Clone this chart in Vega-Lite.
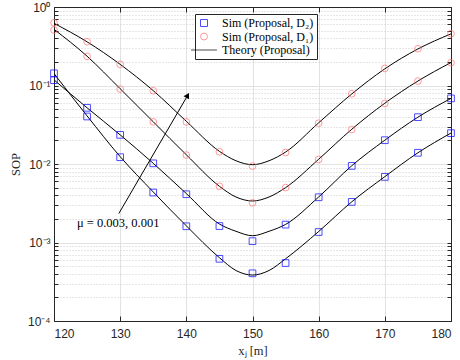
{
  "$schema": "https://vega.github.io/schema/vega-lite/v6.json",
  "width": 397,
  "height": 314,
  "autosize": {"type": "none"},
  "padding": {"left": 54, "top": 7, "right": 9, "bottom": 39},
  "background": "white",
  "config": {
    "view": {"stroke": "#262626", "strokeWidth": 1},
    "axis": {
      "domainColor": "#262626",
      "tickColor": "#262626",
      "labelColor": "#262626",
      "labelFont": "Liberation Sans",
      "labelFontSize": 12,
      "titleFont": "Liberation Serif",
      "titleFontSize": 12.5,
      "titleFontWeight": "normal",
      "titleColor": "#262626"
    }
  },
  "datasets": {
    "theory": [
      {"curve": "T1", "x": 120, "sop": 0.62}, {"curve": "T1", "x": 125, "sop": 0.36}, {"curve": "T1", "x": 130, "sop": 0.186}, {"curve": "T1", "x": 135, "sop": 0.086}, {"curve": "T1", "x": 140, "sop": 0.035}, {"curve": "T1", "x": 145, "sop": 0.0145}, {"curve": "T1", "x": 147.5, "sop": 0.011}, {"curve": "T1", "x": 150, "sop": 0.0098}, {"curve": "T1", "x": 152.5, "sop": 0.011}, {"curve": "T1", "x": 155, "sop": 0.0142}, {"curve": "T1", "x": 160, "sop": 0.0335}, {"curve": "T1", "x": 165, "sop": 0.078}, {"curve": "T1", "x": 170, "sop": 0.163}, {"curve": "T1", "x": 175, "sop": 0.292}, {"curve": "T1", "x": 180, "sop": 0.455},
      {"curve": "T2", "x": 120, "sop": 0.52}, {"curve": "T2", "x": 125, "sop": 0.236}, {"curve": "T2", "x": 130, "sop": 0.091}, {"curve": "T2", "x": 135, "sop": 0.0345}, {"curve": "T2", "x": 140, "sop": 0.0131}, {"curve": "T2", "x": 145, "sop": 0.0052}, {"curve": "T2", "x": 147.5, "sop": 0.0038}, {"curve": "T2", "x": 150, "sop": 0.00338}, {"curve": "T2", "x": 152.5, "sop": 0.0038}, {"curve": "T2", "x": 155, "sop": 0.005}, {"curve": "T2", "x": 160, "sop": 0.0115}, {"curve": "T2", "x": 165, "sop": 0.0277}, {"curve": "T2", "x": 170, "sop": 0.0595}, {"curve": "T2", "x": 175, "sop": 0.114}, {"curve": "T2", "x": 180, "sop": 0.196},
      {"curve": "T3", "x": 120, "sop": 0.118}, {"curve": "T3", "x": 125, "sop": 0.052}, {"curve": "T3", "x": 130, "sop": 0.0235}, {"curve": "T3", "x": 135, "sop": 0.0102}, {"curve": "T3", "x": 140, "sop": 0.0042}, {"curve": "T3", "x": 145, "sop": 0.00172}, {"curve": "T3", "x": 147.5, "sop": 0.00139}, {"curve": "T3", "x": 150, "sop": 0.00122}, {"curve": "T3", "x": 152.5, "sop": 0.00139}, {"curve": "T3", "x": 155, "sop": 0.0017}, {"curve": "T3", "x": 160, "sop": 0.0038}, {"curve": "T3", "x": 165, "sop": 0.0095}, {"curve": "T3", "x": 170, "sop": 0.0201}, {"curve": "T3", "x": 175, "sop": 0.0395}, {"curve": "T3", "x": 180, "sop": 0.0685},
      {"curve": "T4", "x": 120, "sop": 0.142}, {"curve": "T4", "x": 125, "sop": 0.041}, {"curve": "T4", "x": 130, "sop": 0.0124}, {"curve": "T4", "x": 135, "sop": 0.0044}, {"curve": "T4", "x": 140, "sop": 0.00163}, {"curve": "T4", "x": 145, "sop": 0.00064}, {"curve": "T4", "x": 147.5, "sop": 0.00044}, {"curve": "T4", "x": 150, "sop": 0.000385}, {"curve": "T4", "x": 152.5, "sop": 0.00044}, {"curve": "T4", "x": 155, "sop": 0.00062}, {"curve": "T4", "x": 160, "sop": 0.00138}, {"curve": "T4", "x": 165, "sop": 0.0033}, {"curve": "T4", "x": 170, "sop": 0.0069}, {"curve": "T4", "x": 175, "sop": 0.0139}, {"curve": "T4", "x": 180, "sop": 0.0248}
    ],
    "sim": [
      {"series": "Sim (Proposal, D₁)", "x": 120, "sop": 0.63}, {"series": "Sim (Proposal, D₁)", "x": 125, "sop": 0.361}, {"series": "Sim (Proposal, D₁)", "x": 130, "sop": 0.186}, {"series": "Sim (Proposal, D₁)", "x": 135, "sop": 0.0857}, {"series": "Sim (Proposal, D₁)", "x": 140, "sop": 0.0344}, {"series": "Sim (Proposal, D₁)", "x": 145, "sop": 0.0143}, {"series": "Sim (Proposal, D₁)", "x": 150, "sop": 0.0094}, {"series": "Sim (Proposal, D₁)", "x": 155, "sop": 0.014}, {"series": "Sim (Proposal, D₁)", "x": 160, "sop": 0.0331}, {"series": "Sim (Proposal, D₁)", "x": 165, "sop": 0.0784}, {"series": "Sim (Proposal, D₁)", "x": 170, "sop": 0.165}, {"series": "Sim (Proposal, D₁)", "x": 175, "sop": 0.294}, {"series": "Sim (Proposal, D₁)", "x": 180, "sop": 0.457},
      {"series": "Sim (Proposal, D₁)", "x": 120, "sop": 0.51}, {"series": "Sim (Proposal, D₁)", "x": 125, "sop": 0.235}, {"series": "Sim (Proposal, D₁)", "x": 130, "sop": 0.09}, {"series": "Sim (Proposal, D₁)", "x": 135, "sop": 0.0344}, {"series": "Sim (Proposal, D₁)", "x": 140, "sop": 0.013}, {"series": "Sim (Proposal, D₁)", "x": 145, "sop": 0.0052}, {"series": "Sim (Proposal, D₁)", "x": 150, "sop": 0.0032}, {"series": "Sim (Proposal, D₁)", "x": 155, "sop": 0.005}, {"series": "Sim (Proposal, D₁)", "x": 160, "sop": 0.0114}, {"series": "Sim (Proposal, D₁)", "x": 165, "sop": 0.0275}, {"series": "Sim (Proposal, D₁)", "x": 170, "sop": 0.0591}, {"series": "Sim (Proposal, D₁)", "x": 175, "sop": 0.114}, {"series": "Sim (Proposal, D₁)", "x": 180, "sop": 0.195},
      {"series": "Sim (Proposal, D₂)", "x": 120, "sop": 0.117}, {"series": "Sim (Proposal, D₂)", "x": 125, "sop": 0.052}, {"series": "Sim (Proposal, D₂)", "x": 130, "sop": 0.0235}, {"series": "Sim (Proposal, D₂)", "x": 135, "sop": 0.0102}, {"series": "Sim (Proposal, D₂)", "x": 140, "sop": 0.00412}, {"series": "Sim (Proposal, D₂)", "x": 145, "sop": 0.00162}, {"series": "Sim (Proposal, D₂)", "x": 150, "sop": 0.00104}, {"series": "Sim (Proposal, D₂)", "x": 155, "sop": 0.00169}, {"series": "Sim (Proposal, D₂)", "x": 160, "sop": 0.00377}, {"series": "Sim (Proposal, D₂)", "x": 165, "sop": 0.00946}, {"series": "Sim (Proposal, D₂)", "x": 170, "sop": 0.0201}, {"series": "Sim (Proposal, D₂)", "x": 175, "sop": 0.0395}, {"series": "Sim (Proposal, D₂)", "x": 180, "sop": 0.0685},
      {"series": "Sim (Proposal, D₂)", "x": 120, "sop": 0.143}, {"series": "Sim (Proposal, D₂)", "x": 125, "sop": 0.0403}, {"series": "Sim (Proposal, D₂)", "x": 130, "sop": 0.0122}, {"series": "Sim (Proposal, D₂)", "x": 135, "sop": 0.00433}, {"series": "Sim (Proposal, D₂)", "x": 140, "sop": 0.00161}, {"series": "Sim (Proposal, D₂)", "x": 145, "sop": 0.00062}, {"series": "Sim (Proposal, D₂)", "x": 150, "sop": 0.000405}, {"series": "Sim (Proposal, D₂)", "x": 155, "sop": 0.000548}, {"series": "Sim (Proposal, D₂)", "x": 160, "sop": 0.00136}, {"series": "Sim (Proposal, D₂)", "x": 165, "sop": 0.00329}, {"series": "Sim (Proposal, D₂)", "x": 170, "sop": 0.00685}, {"series": "Sim (Proposal, D₂)", "x": 175, "sop": 0.0139}, {"series": "Sim (Proposal, D₂)", "x": 180, "sop": 0.0247}
    ],
    "arrow": [{"x": 129.8, "y": 0.00234, "x2": 140.2, "y2": 0.0748}],
    "label": [{"x": 129.7, "y": 0.00179, "text": "μ = 0.003, 0.001"}]
  },
  "layer": [
    {
      "data": {"name": "theory"},
      "mark": {"type": "line", "color": "black", "strokeWidth": 1, "interpolate": "monotone", "clip": true},
      "encoding": {
        "x": {
          "field": "x", "type": "quantitative",
          "scale": {"domain": [120, 180], "nice": false, "zero": false},
          "axis": {
            "values": [120, 130, 140, 150, 160, 170, 180],
            "title": "xⱼ [m]",
            "titlePadding": 5,
            "tickSize": -5,
            "labelPadding": 12,
            "grid": true,
            "gridColor": "#e2e2e2",
            "domain": true
          }
        },
        "y": {
          "field": "sop", "type": "quantitative",
          "scale": {"type": "log", "domain": [0.0001, 1], "nice": false},
          "axis": {
            "values": [0.0001, 0.0002, 0.0003, 0.0004, 0.0005, 0.0006, 0.0007, 0.0008, 0.0009, 0.001, 0.002, 0.003, 0.004, 0.005, 0.006, 0.007, 0.008, 0.009, 0.01, 0.02, 0.03, 0.04, 0.05, 0.06, 0.07, 0.08, 0.09, 0.1, 0.2, 0.3, 0.4, 0.5, 0.6, 0.7, 0.8, 0.9, 1],
            "labelExpr": "datum.value==1?'10⁰':datum.value==0.1?'10⁻¹':datum.value==0.01?'10⁻²':datum.value==0.001?'10⁻³':datum.value==0.0001?'10⁻⁴':''",
            "title": "SOP",
            "titlePadding": 5,
            "tickSize": -4,
            "labelPadding": 8,
            "grid": true,
            "gridColor": {"condition": {"test": "datum.value==1||datum.value==0.1||datum.value==0.01||datum.value==0.001||datum.value==0.0001", "value": "#e2e2e2"}, "value": "#cccccc"},
            "gridDash": {"condition": {"test": "datum.value==1||datum.value==0.1||datum.value==0.01||datum.value==0.001||datum.value==0.0001", "value": []}, "value": [1, 2]},
            "domain": true
          }
        },
        "detail": {"field": "curve"}
      }
    },
    {
      "data": {"name": "sim"},
      "mark": {"type": "point", "filled": false, "size": 45, "strokeWidth": 1},
      "encoding": {
        "x": {"field": "x", "type": "quantitative", "axis": null},
        "y": {"field": "sop", "type": "quantitative", "axis": null},
        "color": {
          "field": "series", "type": "nominal",
          "scale": {"domain": ["Sim (Proposal, D₂)", "Sim (Proposal, D₁)", "Theory (Proposal)"], "range": ["#0000ff", "#ff6f6f", "#000000"]},
          "legend": {
            "title": null,
            "orient": "none",
            "legendX": 141,
            "legendY": 7,
            "strokeColor": "#262626",
            "fillColor": "white",
            "padding": 3,
            "labelFont": "Liberation Serif",
            "labelFontSize": 12,
            "labelColor": "black",
            "symbolSize": 49,
            "symbolStrokeWidth": 1,
            "labelOffset": 12,
            "rowPadding": 1.5
          }
        },
        "shape": {
          "field": "series", "type": "nominal",
          "scale": {"domain": ["Sim (Proposal, D₂)", "Sim (Proposal, D₁)", "Theory (Proposal)"], "range": ["square", "circle", "M-3.7,0H3.7"]}
        }
      }
    },
    {
      "data": {"name": "arrow"},
      "mark": {"type": "rule", "color": "black", "strokeWidth": 1},
      "encoding": {
        "x": {"field": "x", "type": "quantitative", "axis": null},
        "y": {"field": "y", "type": "quantitative", "axis": null},
        "x2": {"field": "x2"},
        "y2": {"field": "y2"}
      }
    },
    {
      "data": {"name": "arrow"},
      "mark": {"type": "point", "shape": "triangle-up", "filled": true, "color": "black", "size": 40, "angle": 30, "opacity": 1},
      "encoding": {
        "x": {"field": "x2", "type": "quantitative", "axis": null},
        "y": {"field": "y2", "type": "quantitative", "axis": null}
      }
    },
    {
      "data": {"name": "label"},
      "mark": {"type": "text", "font": "Liberation Serif", "fontSize": 12.5, "color": "black", "align": "center", "baseline": "middle"},
      "encoding": {
        "x": {"field": "x", "type": "quantitative", "axis": {"orient": "top", "values": [120, 130, 140, 150, 160, 170, 180], "labels": false, "title": null, "grid": false, "tickSize": -5, "domain": true}},
        "y": {"field": "y", "type": "quantitative", "axis": {"orient": "right", "values": [0.0001, 0.0002, 0.0003, 0.0004, 0.0005, 0.0006, 0.0007, 0.0008, 0.0009, 0.001, 0.002, 0.003, 0.004, 0.005, 0.006, 0.007, 0.008, 0.009, 0.01, 0.02, 0.03, 0.04, 0.05, 0.06, 0.07, 0.08, 0.09, 0.1, 0.2, 0.3, 0.4, 0.5, 0.6, 0.7, 0.8, 0.9, 1], "labels": false, "title": null, "grid": false, "tickSize": -4, "domain": true}},
        "text": {"field": "text"}
      }
    }
  ],
  "resolve": {"axis": {"x": "independent", "y": "independent"}}
}
